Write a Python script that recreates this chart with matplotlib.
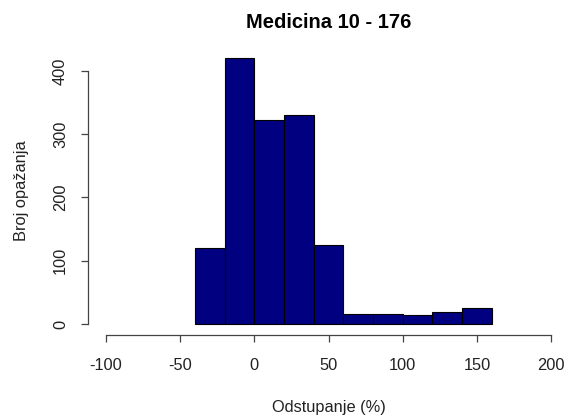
import numpy as np
import matplotlib.pyplot as plt

plt.rcParams['font.family'] = ['Liberation Sans', 'DejaVu Sans']

# histogram bins (odstupanje %) and counts
rubovi = [-40, -20, 0, 20, 40, 60, 80, 100, 120, 140, 160]
frekvencije = [120, 420, 322, 330, 125, 15, 15, 14, 19, 25]
x_ticks = [-100, -50, 0, 50, 100, 150, 200]
y_ticks = [0, 100, 200, 300, 400]

dpi = 100
fig = plt.figure(figsize=(5.69, 4.16), dpi=dpi)
ax = fig.add_axes([0.155, 0.1957, 0.845, 0.6896])

sirine = np.diff(rubovi)
ax.bar(rubovi[:-1], frekvencije, width=sirine, align='edge',
       color='#000080', edgecolor='black', linewidth=0.8)

ax.set_xlim(-112, 212)
ax.set_ylim(-0.04 * 420, 420 * 1.04)

for s in ['top', 'right']:
    ax.spines[s].set_visible(False)
for s in ['left', 'bottom']:
    ax.spines[s].set_color('#444444')
    ax.spines[s].set_linewidth(0.9)
ax.spines['bottom'].set_bounds(-100, 200)
ax.spines['left'].set_bounds(0, 400)

ax.set_xticks(x_ticks)
ax.set_xticklabels([str(v) for v in x_ticks])
ax.set_yticks(y_ticks)
ax.set_yticklabels([str(v) for v in y_ticks], rotation=90, va='center')
ax.tick_params(axis='both', length=5, width=0.9, color='#444444',
               labelsize=11.8, labelcolor='#222222')
ax.tick_params(axis='x', pad=12)
ax.tick_params(axis='y', pad=9.5)

ax.set_title('Medicina 10 - 176', fontsize=14.5, fontweight='bold', pad=14)
ax.set_xlabel('Odstupanje (%)', fontsize=11.8, color='#222222', labelpad=19)
ax.set_ylabel('Broj opažanja', fontsize=11.8, color='#222222', labelpad=17)

fig.savefig('out.png', dpi=dpi)
